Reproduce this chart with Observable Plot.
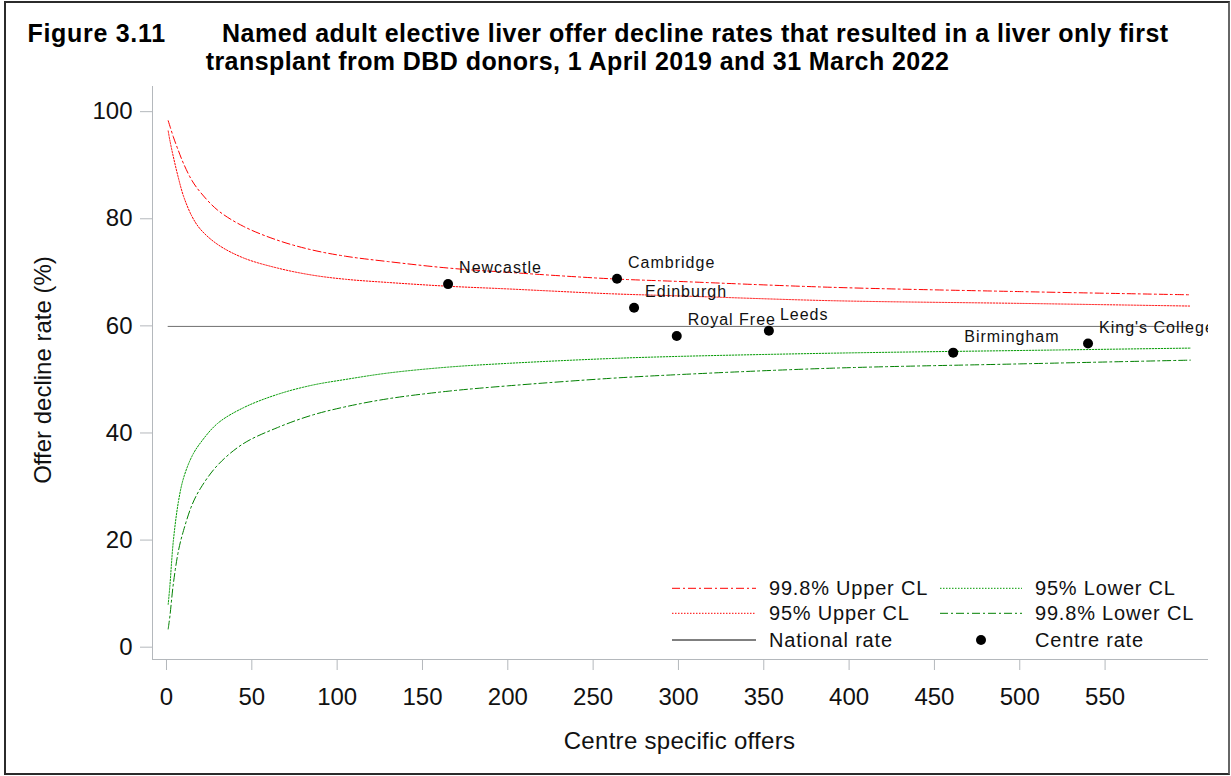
<!DOCTYPE html>
<html>
<head>
<meta charset="utf-8">
<script src="https://cdn.jsdelivr.net/npm/d3@7"></script>
<script src="https://cdn.jsdelivr.net/npm/@observablehq/plot@0.6"></script>
<style>
  html, body { margin: 0; padding: 0; background: #fff; }
  #fig { position: relative; width: 1231px; height: 776px; overflow: hidden; font-family: "Liberation Sans", Arial, sans-serif; }
  #frame { position: absolute; left: 4px; top: 1px; width: 1222px; height: 770px; border: 2px solid #2b2b2b; border-right-color: #666; pointer-events: none; }
  #chart, #annot { position: absolute; left: 0; top: 0; }
  #annot { pointer-events: none; }
</style>
</head>
<body>
<div id="fig">
  <div id="chart"></div>
  <svg id="annot" width="1231" height="776"></svg>
  <div id="frame"></div>
</div>
<script>
// ---- Titles ----
const figureNumber = "Figure 3.11";
const titleLines = [
  "Named adult elective liver offer decline rates that resulted in a liver only first",
  "transplant from DBD donors, 1 April 2019 and 31 March 2022"
];
const xTitle = "Centre specific offers";
const yTitle = "Offer decline rate (%)";

// ---- Funnel limits (offer decline rate, %) at a set of centre offer counts ----
const offerGrid = [1, 2, 4, 7, 10, 15, 20, 30, 45, 65, 85, 105, 130, 165, 200, 260, 300, 390, 500, 600];
const upper998  = [98.3, 97.3, 95.3, 92.7, 90.3, 87.1, 84.9, 81.6, 78.6, 76.0, 74.2, 73.0, 72.0, 70.8, 70.0, 68.8, 68.3, 67.2, 66.4, 65.8];
const upper95   = [96.4, 94.6, 91.6, 87.6, 84.2, 80.4, 78.0, 75.2, 72.7, 70.8, 69.5, 68.7, 68.1, 67.4, 66.9, 66.0, 65.6, 64.7, 64.2, 63.7];
const lower95   = [8.0, 11.5, 19.8, 27.2, 31.6, 35.7, 38.2, 41.8, 44.7, 47.2, 48.9, 50.0, 51.2, 52.3, 53.0, 53.9, 54.3, 54.9, 55.4, 55.85];
const lower998  = [3.4, 5.8, 11.8, 18.0, 21.8, 26.6, 29.7, 34.0, 38.0, 41.0, 43.3, 44.9, 46.4, 47.8, 48.8, 50.2, 50.9, 52.1, 52.9, 53.6];
const nationalRate = 59.9;

// ---- Centres ----
const centres      = ["Newcastle", "Cambridge", "Edinburgh", "Royal Free", "Leeds", "Birmingham", "King's College"];
const centreOffers = [165, 264, 274, 299, 353, 461, 540];
const centreRates  = [67.8, 68.8, 63.4, 58.1, 59.1, 55.0, 56.7];

// ---- Axes ----
const xTicks = [0, 50, 100, 150, 200, 250, 300, 350, 400, 450, 500, 550];
const yTicks = [0, 20, 40, 60, 80, 100];
const xDomain = [-8.2, 610.6];
const yDomain = [-2.3, 104.7];

// ---- Series styling ----
const seriesStyle = [
  {name: "99.8% Upper CL", values: upper998, stroke: "#ff0000", dash: "8,3,2,3"},
  {name: "95% Upper CL",   values: upper95,  stroke: "#ff0000", dash: "1.5,1.5"},
  {name: "95% Lower CL",   values: lower95,  stroke: "#009a00", dash: "1.5,1.5"},
  {name: "99.8% Lower CL", values: lower998, stroke: "#008000", dash: "8,3,2,3"}
];

const rowsOf = values => offerGrid.map((n, i) => ({n, v: values[i]}));
const centreRows = centres.map((c, i) => ({centre: c, offers: centreOffers[i], rate: centreRates[i]}));
const axisGray = "#b4b8bc";

const chart = Plot.plot({
  width: 1231,
  height: 776,
  marginLeft: 152,
  marginRight: 23,
  marginTop: 86,
  marginBottom: 117,
  style: {fontFamily: "'Liberation Sans', Arial, sans-serif", background: "transparent", color: "#111"},
  x: {domain: xDomain},
  y: {domain: yDomain},
  marks: [
    Plot.ruleY([yDomain[0]], {stroke: axisGray}),
    Plot.ruleX([xDomain[0]], {stroke: axisGray}),
    Plot.axisX({ticks: xTicks, tickSize: 11, tickPadding: 17, stroke: axisGray, fill: "#111", fontSize: 24, label: null}),
    Plot.axisY({ticks: yTicks, tickSize: 12, tickPadding: 8, stroke: axisGray, fill: "#111", fontSize: 24, label: null}),
    Plot.ruleY([nationalRate], {x1: offerGrid[0], x2: offerGrid[offerGrid.length - 1], stroke: "#707070", strokeWidth: 1}),
    ...seriesStyle.map(s => Plot.line(rowsOf(s.values), {
      x: "n", y: "v", stroke: s.stroke, strokeWidth: 1, strokeDasharray: s.dash, curve: "catmull-rom"
    })),
    Plot.dot(centreRows, {x: "offers", y: "rate", r: 5, fill: "#000", stroke: null}),
    Plot.text(centreRows, {
      x: "offers", y: "rate", text: "centre", textAnchor: "start",
      dx: 11, dy: -16, fontSize: 16, fill: "#111", clip: true
    })
  ]
});
document.getElementById("chart").appendChild(chart);
// spacing of the centre labels
chart.querySelectorAll('g[aria-label="text"] text').forEach(t => t.setAttribute("letter-spacing", "1"));

// ---- Titles, axis titles and legend ----
const annot = d3.select("#annot").attr("font-family", "'Liberation Sans', Arial, sans-serif");

annot.append("text").attr("x", 27.5).attr("y", 41.7)
  .attr("font-size", 25).attr("font-weight", "bold").attr("fill", "#000").attr("letter-spacing", 0.7).text(figureNumber);
annot.append("text").attr("x", 222).attr("y", 41.7)
  .attr("font-size", 25).attr("font-weight", "bold").attr("fill", "#000").attr("letter-spacing", 0.48).text(titleLines[0]);
annot.append("text").attr("x", 205.7).attr("y", 70)
  .attr("font-size", 25).attr("font-weight", "bold").attr("fill", "#000").attr("letter-spacing", 0.43).text(titleLines[1]);

annot.append("text").attr("x", 679.5).attr("y", 749).attr("text-anchor", "middle")
  .attr("font-size", 24).attr("letter-spacing", 0.3).attr("fill", "#111").text(xTitle);
annot.append("text").attr("transform", "translate(51,370) rotate(-90)").attr("text-anchor", "middle")
  .attr("font-size", 24).attr("fill", "#111").text(yTitle);

const legendRows = [
  {name: seriesStyle[0].name, kind: "line", stroke: seriesStyle[0].stroke, dash: seriesStyle[0].dash, col: 0, row: 0},
  {name: seriesStyle[1].name, kind: "line", stroke: seriesStyle[1].stroke, dash: seriesStyle[1].dash, col: 0, row: 1},
  {name: "National rate",     kind: "line", stroke: "#000", dash: null, col: 0, row: 2},
  {name: seriesStyle[2].name, kind: "line", stroke: seriesStyle[2].stroke, dash: seriesStyle[2].dash, col: 1, row: 0},
  {name: seriesStyle[3].name, kind: "line", stroke: seriesStyle[3].stroke, dash: seriesStyle[3].dash, col: 1, row: 1},
  {name: "Centre rate",       kind: "dot", col: 1, row: 2}
];
const colX = [{x1: 672, x2: 756, tx: 769}, {x1: 940, x2: 1022, tx: 1035}];
const rowY = [588.3, 613.3, 640];
legendRows.forEach(d => {
  const c = colX[d.col], y = rowY[d.row];
  if (d.kind === "line") {
    const ln = annot.append("line").attr("x1", c.x1).attr("x2", c.x2).attr("y1", y).attr("y2", y)
      .attr("stroke", d.stroke).attr("stroke-width", 1);
    if (d.dash) ln.attr("stroke-dasharray", d.dash);
  } else {
    annot.append("circle").attr("cx", (c.x1 + c.x2) / 2).attr("cy", y).attr("r", 5).attr("fill", "#000");
  }
  annot.append("text").attr("x", c.tx).attr("y", y + 7).attr("font-size", 20)
    .attr("letter-spacing", 0.8).attr("fill", "#111").text(d.name);
});
</script>
</body>
</html>
